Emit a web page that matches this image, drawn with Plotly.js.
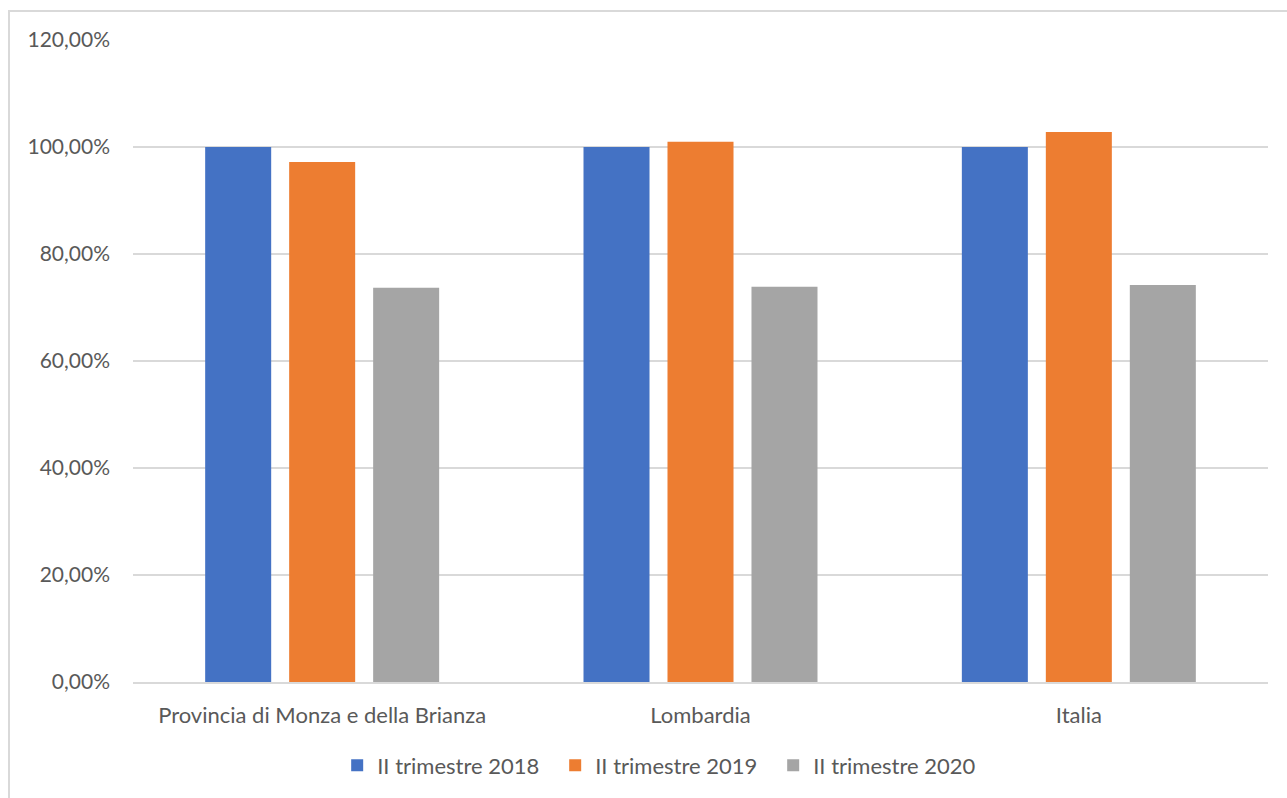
<!DOCTYPE html>
<html>
<head>
<meta charset="utf-8">
<script src="https://cdn.plot.ly/plotly-3.0.1.min.js"></script>
<style>
html,body{margin:0;padding:0;background:#fff;}
#wrap{position:relative;width:1287px;height:798px;}
#chart{width:1287px;height:798px;}
#frame{position:absolute;left:8px;top:10px;width:1279px;height:788px;border-left:2px solid #d9d9d9;border-top:2px solid #d9d9d9;pointer-events:none;}
</style>
</head>
<body>
<div id="wrap"><div id="chart"></div><div id="frame"></div></div>
<script>
const categories = ["Provincia di Monza e della Brianza", "Lombardia", "Italia"];
const seriesNames = ["II trimestre 2018", "II trimestre 2019", "II trimestre 2020"];
const values2018 = [1.000, 1.000, 1.000];
const values2019 = [0.972, 1.010, 1.028];
const values2020 = [0.737, 0.739, 0.742];
const tickVals = [0, 0.2, 0.4, 0.6, 0.8, 1.0, 1.2];
const tickText = ["0,00%", "20,00%", "40,00%", "60,00%", "80,00%", "100,00%", "120,00%"];
const colors = ["#4472c4", "#ed7d31", "#a5a5a5"];

const allValues = [values2018, values2019, values2020];
const traces = allValues.map((v, i) => ({
  type: "bar",
  name: seriesNames[i],
  x: categories,
  y: v,
  marker: {color: colors[i]},
  hoverinfo: "skip"
}));

const fam = "Lato, 'Open Sans', sans-serif";
const xfont = {family: fam, size: 22, color: "#595959"};
const yfont = {family: fam, size: 21, color: "#595959"};
const lfont = {family: fam, size: 22, color: "#595959"};
const layout = {
  width: 1287, height: 798,
  margin: {l: 133, r: 19, t: 40, b: 114},
  paper_bgcolor: "#fff", plot_bgcolor: "#fff",
  font: xfont,
  barmode: "group",
  bargap: 0.334,
  bargroupgap: 0.214,
  showlegend: true,
  legend: {orientation: "h", x: 0.468, xanchor: "center", y: -0.130, yanchor: "middle",
           font: lfont, itemwidth: 30, traceorder: "normal", entrywidth: 173},
  xaxis: {type: "category", showgrid: false, showline: true, linecolor: "#d9d9d9", linewidth: 2,
          ticks: "", ticklabelstandoff: 13, tickfont: xfont, zeroline: false},
  yaxis: {range: [0, 1.2], tickvals: tickVals, ticktext: tickText, showgrid: true,
          gridcolor: "#d9d9d9", gridwidth: 2, zeroline: false, showline: false,
          ticks: "", ticklabelstandoff: 22, tickfont: yfont}
};
Plotly.newPlot("chart", traces, layout, {displayModeBar: false, staticPlot: true});
</script>
</body>
</html>
